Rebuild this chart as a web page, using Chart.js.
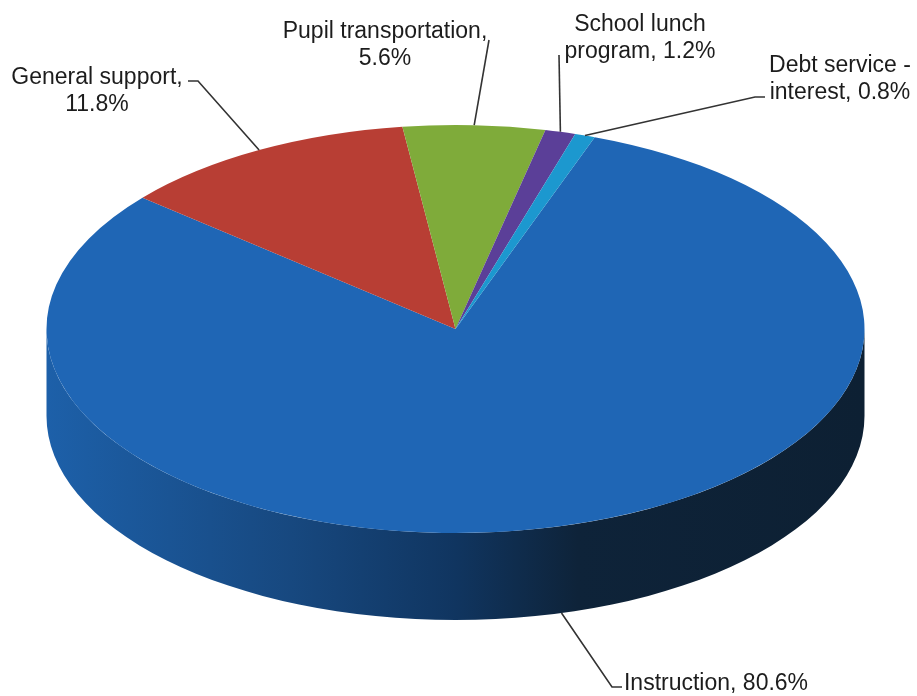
<!DOCTYPE html>
<html lang="en">
<head>
<meta charset="utf-8">
<script src="https://cdn.jsdelivr.net/npm/chart.js@4/dist/chart.umd.js"></script>
<style>
    html, body { margin: 0; padding: 0; background: #fff; }
    #chartBox { width: 917px; height: 696px; }
</style>
</head>
<body>
<div id="chartBox"><canvas id="pieChart" width="917" height="696"></canvas></div>

<script>
    // data
    var categories = ['Instruction', 'General support', 'Pupil transportation', 'School lunch program', 'Debt service - interest'];
    var shares = [80.6, 11.8, 5.6, 1.2, 0.8];
    var sliceColors = ['#1f66b5', '#b83e34', '#7fab3a', '#5b3f98', '#1c98cf'];
    var firstSliceAngle = 19.9;

    // label text lines, one entry per category
    var labelLines = [
        ['Instruction, 80.6%'],
        ['General support,', '11.8%'],
        ['Pupil transportation,', '5.6%'],
        ['School lunch', 'program, 1.2%'],
        ['Debt service -', 'interest, 0.8%']
    ];

    // layout of the tilted pie on the page
    var tilt = { x: 455.5, y: 329, rx: 409, ry: 204, depth: 87 };
    var labelSpots = [
        { x: 716, y: 690 },
        { x: 97, y: 84 },
        { x: 385, y: 38 },
        { x: 640, y: 31 },
        { x: 840, y: 72 }
    ];
    var leaderElbows = [
        [[622, 687], [612, 687]],
        [[188, 81], [198, 81]],
        [[489, 40]],
        [[559, 55]],
        [[765, 97], [755, 97]]
    ];

    function applyTilt(ctx, arc) {
        ctx.translate(tilt.x, tilt.y);
        ctx.scale(tilt.rx / arc.outerRadius, tilt.ry / arc.outerRadius);
        ctx.translate(-arc.x, -arc.y);
    }

    var tiltedPie = {
        id: 'tiltedPie',
        beforeDatasetsDraw: function (chart) {
            var ctx = chart.ctx;
            var grad = ctx.createLinearGradient(tilt.x - tilt.rx, 0, tilt.x + tilt.rx, 0);
            grad.addColorStop(0, '#1d60a9');
            grad.addColorStop(0.3, '#17487f');
            grad.addColorStop(0.5, '#103560');
            grad.addColorStop(0.65, '#0e2339');
            grad.addColorStop(1, '#0d2033');

            ctx.save();
            ctx.beginPath();
            ctx.ellipse(tilt.x, tilt.y + tilt.depth, tilt.rx, tilt.ry, 0, 0, Math.PI);
            ctx.lineTo(tilt.x - tilt.rx, tilt.y);
            ctx.ellipse(tilt.x, tilt.y, tilt.rx, tilt.ry, 0, Math.PI, 0, true);
            ctx.closePath();
            ctx.fillStyle = grad;
            ctx.fill();

            applyTilt(ctx, chart.getDatasetMeta(0).data[0]);
        },
        afterDatasetsDraw: function (chart) {
            var ctx = chart.ctx;
            ctx.restore();

            ctx.save();
            ctx.strokeStyle = '#333';
            ctx.lineWidth = 1.6;
            chart.getDatasetMeta(0).data.forEach(function (arc, i) {
                // leader ends on the rim at the middle of the slice
                var mid = (arc.startAngle + arc.endAngle) / 2;
                var endX = tilt.x + tilt.rx * Math.cos(mid);
                var endY = tilt.y + tilt.ry * Math.sin(mid);
                if (Math.sin(mid) > 0) {
                    endY += tilt.depth;
                }
                ctx.beginPath();
                leaderElbows[i].forEach(function (p, k) {
                    if (k === 0) {
                        ctx.moveTo(p[0], p[1]);
                    } else {
                        ctx.lineTo(p[0], p[1]);
                    }
                });
                ctx.lineTo(endX, endY);
                ctx.stroke();
            });

            ctx.fillStyle = '#1c1c1c';
            ctx.font = '23px "Liberation Sans"';
            ctx.textAlign = 'center';
            ctx.textBaseline = 'alphabetic';
            labelLines.forEach(function (lines, i) {
                lines.forEach(function (line, k) {
                    ctx.fillText(line, labelSpots[i].x, labelSpots[i].y + k * 26.5);
                });
            });
            ctx.restore();
        }
    };

    new Chart(document.getElementById('pieChart'), {
        type: 'pie',
        data: {
            labels: categories,
            datasets: [{
                data: shares,
                backgroundColor: sliceColors,
                borderWidth: 0,
                clip: false
            }]
        },
        options: {
            responsive: false,
            animation: false,
            rotation: firstSliceAngle,
            plugins: {
                legend: { display: false },
                tooltip: { enabled: false }
            }
        },
        plugins: [tiltedPie]
    });
</script>
</body>
</html>
